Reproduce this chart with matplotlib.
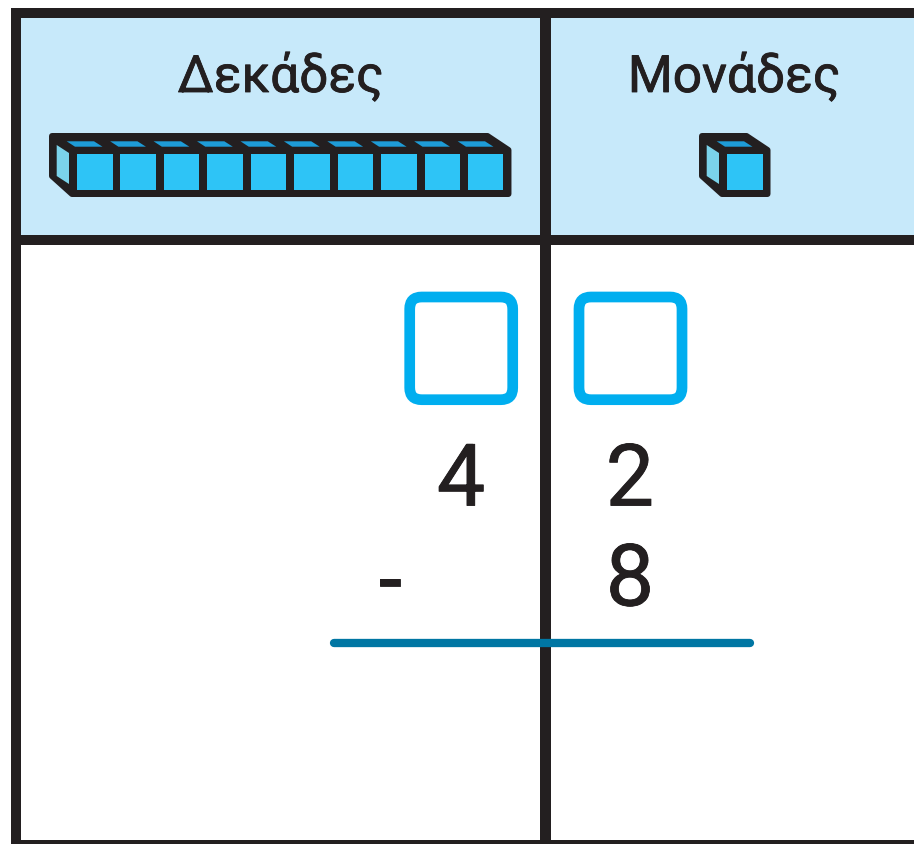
# Place value table: tens and units

import matplotlib
matplotlib.use('Agg')
import matplotlib.pyplot as plt
import matplotlib.patheffects as pe
from matplotlib.patches import FancyBboxPatch, Polygon, Rectangle

# Data
headers = ['Δεκάδες', 'Μονάδες']
header_cubes = [10, 1]
top_digits = ['4', '2']
bottom_sign = '-'
bottom_digit = '8'

dark = '#231F20'
header_bg = '#C7E9FA'
front_col = '#2EC4F6'
side_col = '#7BD3EA'
top_col = '#1E9CD7'
box_col = '#00AEEF'
rule_col = '#0076A3'

plt.rcParams['font.family'] = ['Roboto', 'DejaVu Sans']

fig = plt.figure(figsize=(9.14, 8.44), dpi=100)
ax = fig.add_axes([0, 0, 1, 1])
ax.set_xlim(0, 914)
ax.set_ylim(844, 0)
ax.axis('off')

# thickens the regular weight a little towards the rounded hand-drawn strokes
thick = [pe.withStroke(linewidth=0.6, foreground=dark, capstyle='round', joinstyle='round')]


def px(w):
    return w * 72 / 100


def draw_block(x0, n):
    # x0 is the left edge of the first front face
    pitch = 43.44
    right = x0 + pitch * (n - 1) + 35.5
    outline = [(x0 - 25, 136), (right - 16, 136), (right + 5, 150), (right + 5, 194),
               (x0 - 5, 194), (x0 - 25, 176)]
    ax.add_patch(Polygon(outline, closed=True, fc=dark, ec=dark, lw=px(6), joinstyle='round'))
    ax.add_patch(Polygon([(x0 - 20.3, 145), (x0 - 8, 153), (x0 - 8, 184), (x0 - 20.3, 176)],
                         closed=True, fc=side_col, ec='none'))
    for i in range(n):
        x = x0 + pitch * i
        ax.add_patch(Rectangle((x, 154.3), 35.5, 35.7, fc=front_col, ec='none'))
        ax.add_patch(Polygon([(x - 10.3, 141.3), (x + 17, 141.3), (x + 25.5, 146.7), (x - 2, 146.7)],
                             closed=True, fc=top_col, ec='none'))


# Header band and grid lines
ax.add_patch(Rectangle((21, 18), 893, 217, fc=header_bg, ec='none'))
ax.add_patch(Rectangle((10.5, 8), 903.5, 10.3, fc=dark, ec='none'))
ax.add_patch(Rectangle((10.5, 8), 10.5, 836, fc=dark, ec='none'))
ax.add_patch(Rectangle((540, 8), 10.5, 836, fc=dark, ec='none'))
ax.add_patch(Rectangle((10.5, 234.5), 903.5, 10.8, fc=dark, ec='none'))
ax.add_patch(Rectangle((10.5, 839.5), 903.5, 4.5, fc=dark, ec='none'))

# Headers with their blocks
for label, cubes, xc, x0 in zip(headers, header_cubes, [280.5, 734], [77, 727]):
    ax.text(xc, 78, label, ha='center', va='center', fontsize=37, color=dark, path_effects=thick)
    draw_block(x0, cubes)

# Answer boxes
for x in [409.7, 579]:
    ax.add_patch(FancyBboxPatch((x + 12, 309), 103 - 24, 78.7,
                                boxstyle='round,pad=12,rounding_size=12',
                                fc='white', ec=box_col, lw=px(10.7), mutation_aspect=1))

# Subtraction
ax.text(461, 482, top_digits[0], ha='center', va='center', fontsize=62, color=dark, path_effects=thick)
ax.text(630, 482, top_digits[1], ha='center', va='center', fontsize=62, color=dark, path_effects=thick)
ax.text(390, 585, bottom_sign, ha='center', va='center', fontsize=62, color=dark, path_effects=thick)
ax.text(630, 582, bottom_digit, ha='center', va='center', fontsize=62, color=dark, path_effects=thick)
ax.plot([334, 750], [642.5, 642.5], color=rule_col, lw=px(8.3), solid_capstyle='round')

fig.savefig('out.png', dpi=100)
